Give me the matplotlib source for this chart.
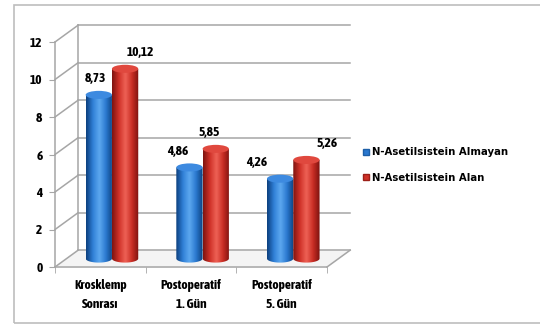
import numpy as np
import matplotlib.pyplot as plt
from matplotlib.patches import Ellipse, Patch, PathPatch, Rectangle
from matplotlib.path import Path
from matplotlib.colors import LinearSegmentedColormap
from matplotlib.font_manager import FontProperties

categories = ['Krosklemp\nSonrası', 'Postoperatif\n1. Gün', 'Postoperatif\n5. Gün']
almayan = [8.73, 4.86, 4.26]
alan = [10.12, 5.85, 5.26]
series_names = ['N-Asetilsistein Almayan', 'N-Asetilsistein Alan']
yticks = [0, 2, 4, 6, 8, 10, 12]

narrow = FontProperties(family=['Asap Condensed', 'DejaVu Sans'], weight='bold', size=9.6)
grid_c = '#a6a6a6'

# oblique depth of the fake 3D box, in data units
dx, dz = 0.256, 0.9
bar_w = 0.29
cap_h = 0.43

fig = plt.figure(figsize=(5.4, 3.26), dpi=100)
fig.add_artist(Rectangle((14 / 540, 3 / 326), 1.2, 318 / 326, transform=fig.transFigure,
                         fill=False, edgecolor='#bdbdbd', linewidth=1.2))
ax = fig.add_axes([55 / 540, 59 / 326, 272 / 540, 225 / 326])
ax.set_xlim(-0.5, 2.5)
ax.set_ylim(0, 12)

# back wall + side wall grid
for y in yticks:
    ax.plot([-0.5 + dx, 2.5 + dx], [y + dz, y + dz], color=grid_c, lw=1.1, clip_on=False, zorder=1)
    ax.plot([-0.5, -0.5 + dx], [y, y + dz], color=grid_c, lw=1.1, clip_on=False, zorder=1)
ax.plot([-0.5 + dx, -0.5 + dx], [dz, 12 + dz], color=grid_c, lw=1.1, clip_on=False, zorder=1)
ax.plot([2.5, 2.5 + dx], [0, dz], color=grid_c, lw=1.1, clip_on=False, zorder=1)
ax.fill([-0.5, 2.5, 2.5 + dx, -0.5 + dx], [0, 0, dz, dz], color='#f4f4f4', zorder=0, clip_on=False)

blue_cm = LinearSegmentedColormap.from_list('b', ['#0c3f7e', '#2f7fd6', '#5da8f0', '#2a78cf', '#0d427f'])
red_cm = LinearSegmentedColormap.from_list('r', ['#7e1410', '#cf3128', '#ee6256', '#c92d24', '#7c130f'])
grad = np.linspace(0, 1, 64).reshape(1, -1)


def cylinder(xl, val, cmap, cap_color):
    base = dz / 2
    top = val + dz / 2
    xc = xl + bar_w / 2
    th = np.linspace(np.pi, 2 * np.pi, 40)
    bx = xc + bar_w / 2 * np.cos(th)
    by = base + cap_h / 2 * np.sin(th)
    verts = list(zip(bx, by)) + [(xl + bar_w, top), (xl, top), (bx[0], by[0])]
    body = PathPatch(Path(verts), facecolor='none', edgecolor='none')
    ax.add_patch(body)
    im = ax.imshow(grad, cmap=cmap, extent=[xl, xl + bar_w, base - cap_h, top], aspect='auto',
                   interpolation='bicubic', zorder=3)
    im.set_clip_path(body)
    ax.add_patch(Ellipse((xc, top), bar_w, cap_h, facecolor=cap_color, edgecolor='none', zorder=4))


offsets = dx / 2
for i in range(len(categories)):
    cx = i + offsets
    cylinder(cx - bar_w, almayan[i], blue_cm, '#3d8ae0')
    cylinder(cx, alan[i], red_cm, '#e0483e')

# data labels (pixel nudges to follow the original placement)
nudge_blue = [-3, -12, -23]
nudge_red = [15, -7, 21]
for i in range(len(categories)):
    cx = i + offsets
    for val, xc, nd in [(almayan[i], cx - bar_w / 2, nudge_blue[i]), (alan[i], cx + bar_w / 2, nudge_red[i])]:
        ax.annotate(f'{val:.2f}'.replace('.', ','), (xc, val + dz / 2 + cap_h / 2),
                    xytext=(nd * 0.72, 4), textcoords='offset points', ha='center', va='bottom',
                    fontproperties=narrow, annotation_clip=False, zorder=5)

for s in ['top', 'right']:
    ax.spines[s].set_visible(False)
for s in ['left', 'bottom']:
    ax.spines[s].set_color(grid_c)
    ax.spines[s].set_linewidth(1.1)
ax.set_yticks(yticks)
ax.set_yticklabels([str(v) for v in yticks], fontproperties=narrow)
ax.set_xticks(range(len(categories)))
ax.set_xticklabels(categories, fontproperties=narrow, linespacing=1.5)
ax.set_xticks([-0.5, 0.5, 1.5, 2.5], minor=True)
ax.tick_params(axis='x', which='major', length=0, pad=9)
ax.tick_params(axis='x', which='minor', length=4, color=grid_c)
ax.tick_params(axis='y', length=4, color=grid_c, pad=5)

handles = [Patch(facecolor='#2a78cf', edgecolor='#1d5fa8'), Patch(facecolor='#cf3128', edgecolor='#9c1f18')]
fig.legend(handles, series_names, loc='center left', bbox_to_anchor=(354 / 540, 1 - 165 / 326),
           frameon=False, handlelength=0.6, handleheight=0.6, handletextpad=0.3, labelspacing=1.5,
           prop={'family': ['DejaVu Sans'], 'weight': 'bold', 'size': 7.3})

fig.savefig('out.png', dpi=100)
